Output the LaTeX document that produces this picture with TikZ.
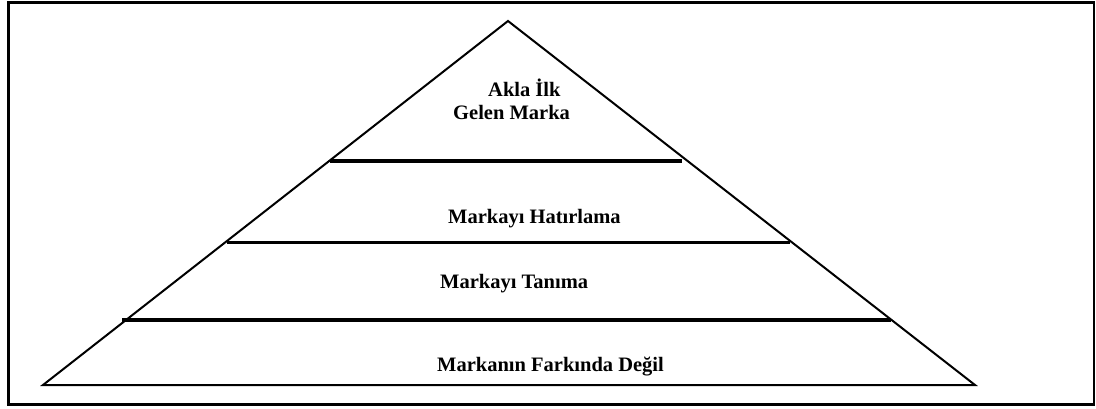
\documentclass[tikz,border=0pt]{standalone}
\usepackage{fontspec}
\setmainfont{Liberation Serif}
\begin{document}
\begin{tikzpicture}[x=1pt,y=-1pt,
  level/.style={font=\fontsize{20.5}{24}\selectfont\bfseries, inner sep=0pt, anchor=base west},
  divider/.style={line width=3.2pt},
  edge/.style={line width=2pt, line join=miter},
  frame/.style={line width=2.6pt}]
  \useasboundingbox (0,0) rectangle (1096,408);
  % outer frame
  \draw[frame] (8.5,2.5) rectangle (1094,404.5);
  % pyramid corners
  \coordinate (apex) at (508,21);
  \coordinate (bl) at (43,385);
  \coordinate (br) at (975,385);
  \draw[edge] (bl) -- (apex) -- (br) -- cycle;
  % level separators
  \coordinate (d1l) at (330,161);
  \coordinate (d1r) at (682,161);
  \coordinate (d2l) at (227,242.5);
  \coordinate (d2r) at (790,242.5);
  \coordinate (d3l) at (122,320);
  \coordinate (d3r) at (891,320);
  \draw[divider] (d1l) -- (d1r);
  \draw[divider] (d2l) -- (d2r);
  \draw[divider] (d3l) -- (d3r);
  % level labels
  \node[level] (l1a) at (488,96) {Akla İlk};
  \node[level] (l1b) at (453,119) {Gelen Marka};
  \node[level] (l2) at (448,223) {Markayı Hatırlama};
  \node[level] (l3) at (440,288) {Markayı Tanıma};
  \node[level] (l4) at (437,371) {Markanın Farkında Değil};
\end{tikzpicture}
\end{document}
